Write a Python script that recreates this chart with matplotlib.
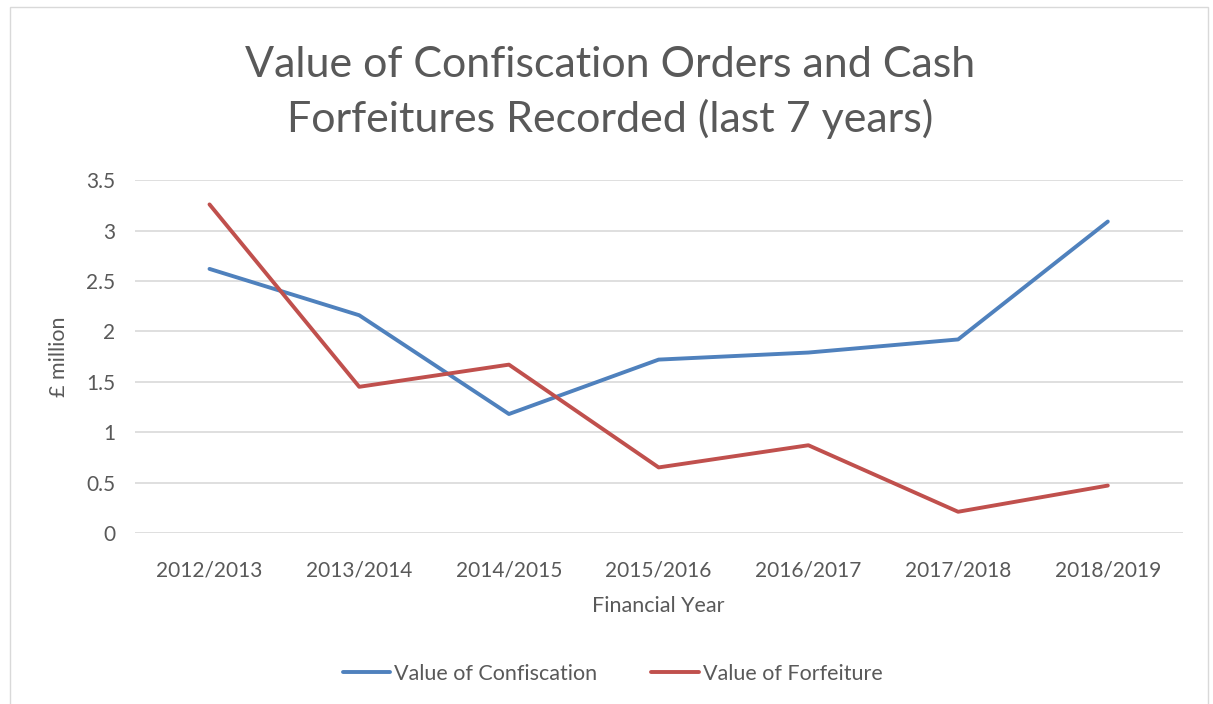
import matplotlib
matplotlib.use("Agg")
import matplotlib.pyplot as plt
from matplotlib.patches import Rectangle

years = ["2012/2013", "2013/2014", "2014/2015", "2015/2016",
         "2016/2017", "2017/2018", "2018/2019"]
confiscation = [2.62, 2.16, 1.18, 1.72, 1.79, 1.92, 3.09]
forfeiture = [3.26, 1.45, 1.67, 0.65, 0.87, 0.21, 0.47]
yticks = [0, 0.5, 1, 1.5, 2, 2.5, 3, 3.5]

plt.rcParams['font.family'] = ['Lato', 'DejaVu Sans']
texto = "#595959"

fig = plt.figure(figsize=(12.13, 7.04), dpi=100)
ax = fig.add_axes([0.111, 0.243, 0.864, 0.501])

x = range(len(years))
ax.plot(x, confiscation, color="#4F81BD", lw=2.8, label="Value of Confiscation",
        solid_capstyle="round", solid_joinstyle="round")
ax.plot(x, forfeiture, color="#C0504D", lw=2.8, label="Value of Forfeiture",
        solid_capstyle="round", solid_joinstyle="round")

ax.set_xlim(-0.5, len(years) - 0.5)
ax.set_ylim(0, 3.5)
ax.set_yticks(yticks)
ax.set_yticklabels([f"{v:g}" for v in yticks])
ax.set_xticks(list(x))
ax.set_xticklabels(years)
ax.tick_params(length=0, labelsize=15, colors=texto)
ax.tick_params(axis="x", pad=20)
ax.tick_params(axis="y", pad=14)
ax.grid(axis="y", color="#D9D9D9", lw=1.2)
ax.set_axisbelow(True)
for s in ax.spines.values():
    s.set_visible(False)

ax.set_xlabel("Financial Year", fontsize=15.5, color=texto, labelpad=11)
ax.set_ylabel("£ million", fontsize=15.5, color=texto, labelpad=12)

fig.text(0.503, 0.869, "Value of Confiscation Orders and Cash\nForfeitures Recorded (last 7 years)",
         ha="center", va="center", fontsize=31, color=texto,
         linespacing=1.45)

fig.legend(loc="center", bbox_to_anchor=(0.505, 0.043), ncol=2, frameon=False,
           fontsize=15.5, labelcolor=texto, handlelength=2.2, columnspacing=2.5,
           handletextpad=0.2)

fig.patches.append(Rectangle((0.008, -0.01), 0.988, 1.0, transform=fig.transFigure,
                             fill=False, edgecolor="#D9D9D9", lw=1))

fig.savefig("out.png", dpi=100)
